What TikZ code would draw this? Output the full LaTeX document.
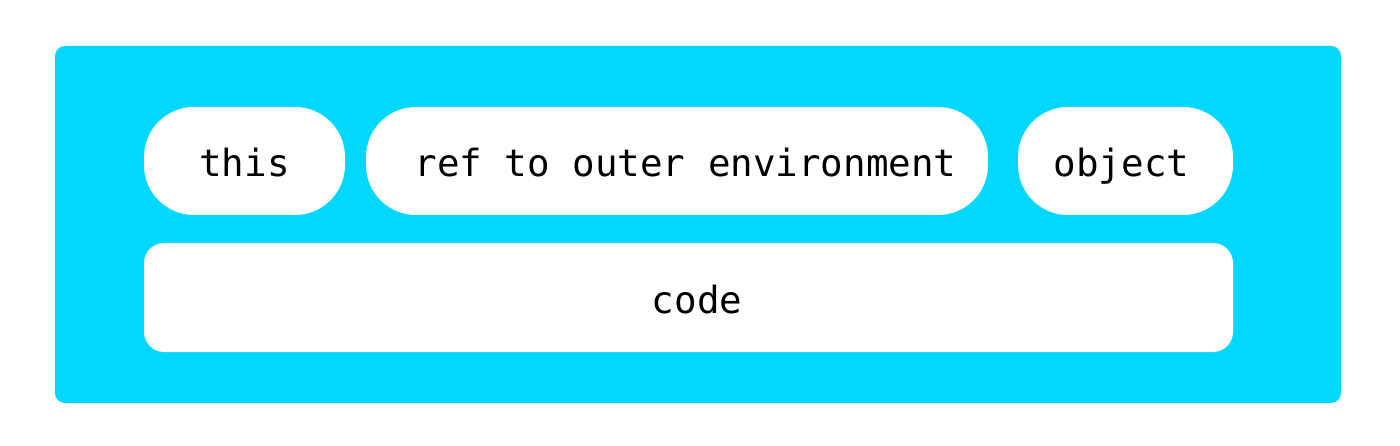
\documentclass[tikz,border=0pt]{standalone}
\usepackage{fontspec}
\setmonofont{DejaVu Sans Mono}
\definecolor{cyanbg}{HTML}{00D8FF}
\begin{document}
\begin{tikzpicture}[x=1pt,y=-1pt,
  pill/.style={fill=white,rounded corners=50pt},
  codebox/.style={fill=white,rounded corners=20pt},
  lbl/.style={font=\ttfamily\fontsize{37.5}{40}\selectfont,text=black,inner sep=0pt,anchor=base}]
\useasboundingbox (0,0) rectangle (1400,446);
\fill[cyanbg,rounded corners=10pt] (55,46) rectangle (1341,403);
\fill[pill] (144,107) rectangle (345,215);
\fill[pill] (366,107) rectangle (988,215);
\fill[pill] (1018,107) rectangle (1233,215);
\fill[codebox] (144,243) rectangle (1233,352);
\node[lbl] (this) at (244.5,177) {this};
\node[lbl] (ref) at (685.5,177) {ref to outer environment};
\node[lbl] (obj) at (1121.5,177) {object};
\node[lbl] (code) at (697,313) {code};
\end{tikzpicture}
\end{document}
